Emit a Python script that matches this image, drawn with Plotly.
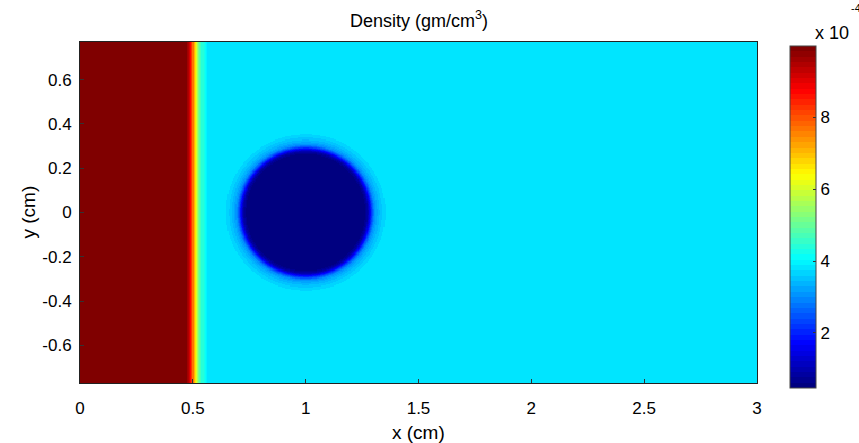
import numpy as np
import plotly.graph_objects as go

# ---- values ----
# shock profile along x (cm) -> density (gm/cm^3)
shock_x = [0.0, 0.47, 0.485, 0.495, 0.505, 0.515, 0.525, 0.54, 0.555, 0.57, 3.0]
shock_rho = [9.9e-4, 9.9e-4, 9.2e-4, 8.3e-4, 7.2e-4, 6.2e-4, 5.2e-4, 4.5e-4, 4.1e-4, 3.8e-4, 3.8e-4]
# bubble radial profile: radius from centre (cm) -> density
bubble_center = (1.0, 0.0)
bubble_r = [0.0, 0.26, 0.275, 0.285, 0.295, 0.305, 0.32, 0.34, 0.36]
bubble_rho = [0.5e-4, 0.5e-4, 0.9e-4, 1.6e-4, 2.4e-4, 3.0e-4, 3.35e-4, 3.6e-4, 3.8e-4]

x_range = [0.0, 3.0]
y_range = [-0.77, 0.77]
x_ticks = [0, 0.5, 1, 1.5, 2, 2.5, 3]
x_ticklabels = ["0", "0.5", "1", "1.5", "2", "2.5", "3"]
y_ticks = [-0.6, -0.4, -0.2, 0, 0.2, 0.4, 0.6]
y_ticklabels = ["-0.6", "-0.4", "-0.2", "0", "0.2", "0.4", "0.6"]
cb_ticks = [2e-4, 4e-4, 6e-4, 8e-4]
cb_ticklabels = ["2", "4", "6", "8"]
z_min, z_max = 0.47e-4, 9.98e-4

# ---- grid ----
nx, ny = 600, 300
xs = np.linspace(x_range[0], x_range[1], nx)
ys = np.linspace(y_range[0], y_range[1], ny)
X, Y = np.meshgrid(xs, ys)
field = np.interp(X, shock_x, shock_rho)
R = np.hypot(X - bubble_center[0], Y - bubble_center[1])
bub = np.interp(R, bubble_r, bubble_rho)
field = np.where(R < bubble_r[-1], bub, field).astype(np.float32)

# ---- MATLAB jet(64) stepped colour scale ----
def jet(t):
    r = np.clip(min(4 * t - 1.5, -4 * t + 4.5), 0, 1)
    g = np.clip(min(4 * t - 0.5, -4 * t + 3.5), 0, 1)
    b = np.clip(min(4 * t + 0.5, -4 * t + 2.5), 0, 1)
    return f"rgb({int(round(r*255))},{int(round(g*255))},{int(round(b*255))})"

n = 64
cscale = []
for i in range(n):
    c = jet(i / (n - 1))
    cscale.append([i / n, c])
    cscale.append([(i + 1) / n, c])

font = "Liberation Sans, Arial, sans-serif"

fig = go.Figure(go.Heatmap(
    x=xs, y=ys, z=field, zmin=z_min, zmax=z_max,
    colorscale=cscale, zsmooth=False, hoverinfo="skip",
    colorbar=dict(
        x=1.0487, xanchor="left", xpad=0,
        y=1 - 4 / 341, yanchor="top", ypad=0,
        lenmode="pixels", len=342,
        thicknessmode="pixels", thickness=26,
        outlinewidth=1, outlinecolor="#444",
        tickvals=cb_ticks, ticktext=cb_ticklabels,
        ticks="inside", ticklen=3, tickcolor="#333",
        tickfont=dict(family=font, size=17, color="black"),
    ),
))

fig.update_layout(
    width=859, height=443,
    margin=dict(l=80, r=102, t=42, b=60),
    paper_bgcolor="white", plot_bgcolor="white",
    font=dict(family=font, size=17, color="black"),
    xaxis=dict(range=x_range, tickvals=x_ticks, ticktext=x_ticklabels,
               ticks="inside", ticklen=4, tickcolor="#333",
               showline=True, mirror=True, linecolor="#222", linewidth=1,
               showgrid=False, zeroline=False, ticklabelstandoff=10),
    yaxis=dict(range=y_range, tickvals=y_ticks, ticktext=y_ticklabels,
               ticks="inside", ticklen=4, tickcolor="#333",
               showline=True, mirror=True, linecolor="#222", linewidth=1,
               showgrid=False, zeroline=False, ticklabelstandoff=4),
    annotations=[
        dict(text="Density (gm/cm<sup>3</sup>)", x=0.5, y=1, xref="paper", yref="paper",
             showarrow=False, font=dict(size=18), yanchor="bottom", yshift=9),
        dict(text="x (cm)", x=0.5, xref="paper", y=0, yref="paper", showarrow=False,
             font=dict(size=19), yanchor="middle", yshift=-49),
        dict(text="y (cm)", x=0, xref="paper", y=0.5, yref="paper", showarrow=False,
             font=dict(size=19), textangle=-90, xanchor="center", xshift=-52),
        dict(text="x 10", x=1, xref="paper", y=1, yref="paper", showarrow=False,
             font=dict(size=18), xanchor="left", yanchor="bottom", xshift=56, yshift=-3),
        dict(text="-4", x=1, xref="paper", y=1, yref="paper", showarrow=False,
             font=dict(size=11), xanchor="left", yanchor="bottom", xshift=92, yshift=26),
    ],
)

fig.write_html("out.html", config={"displayModeBar": False},
               post_script="document.body.style.margin='0px';")
